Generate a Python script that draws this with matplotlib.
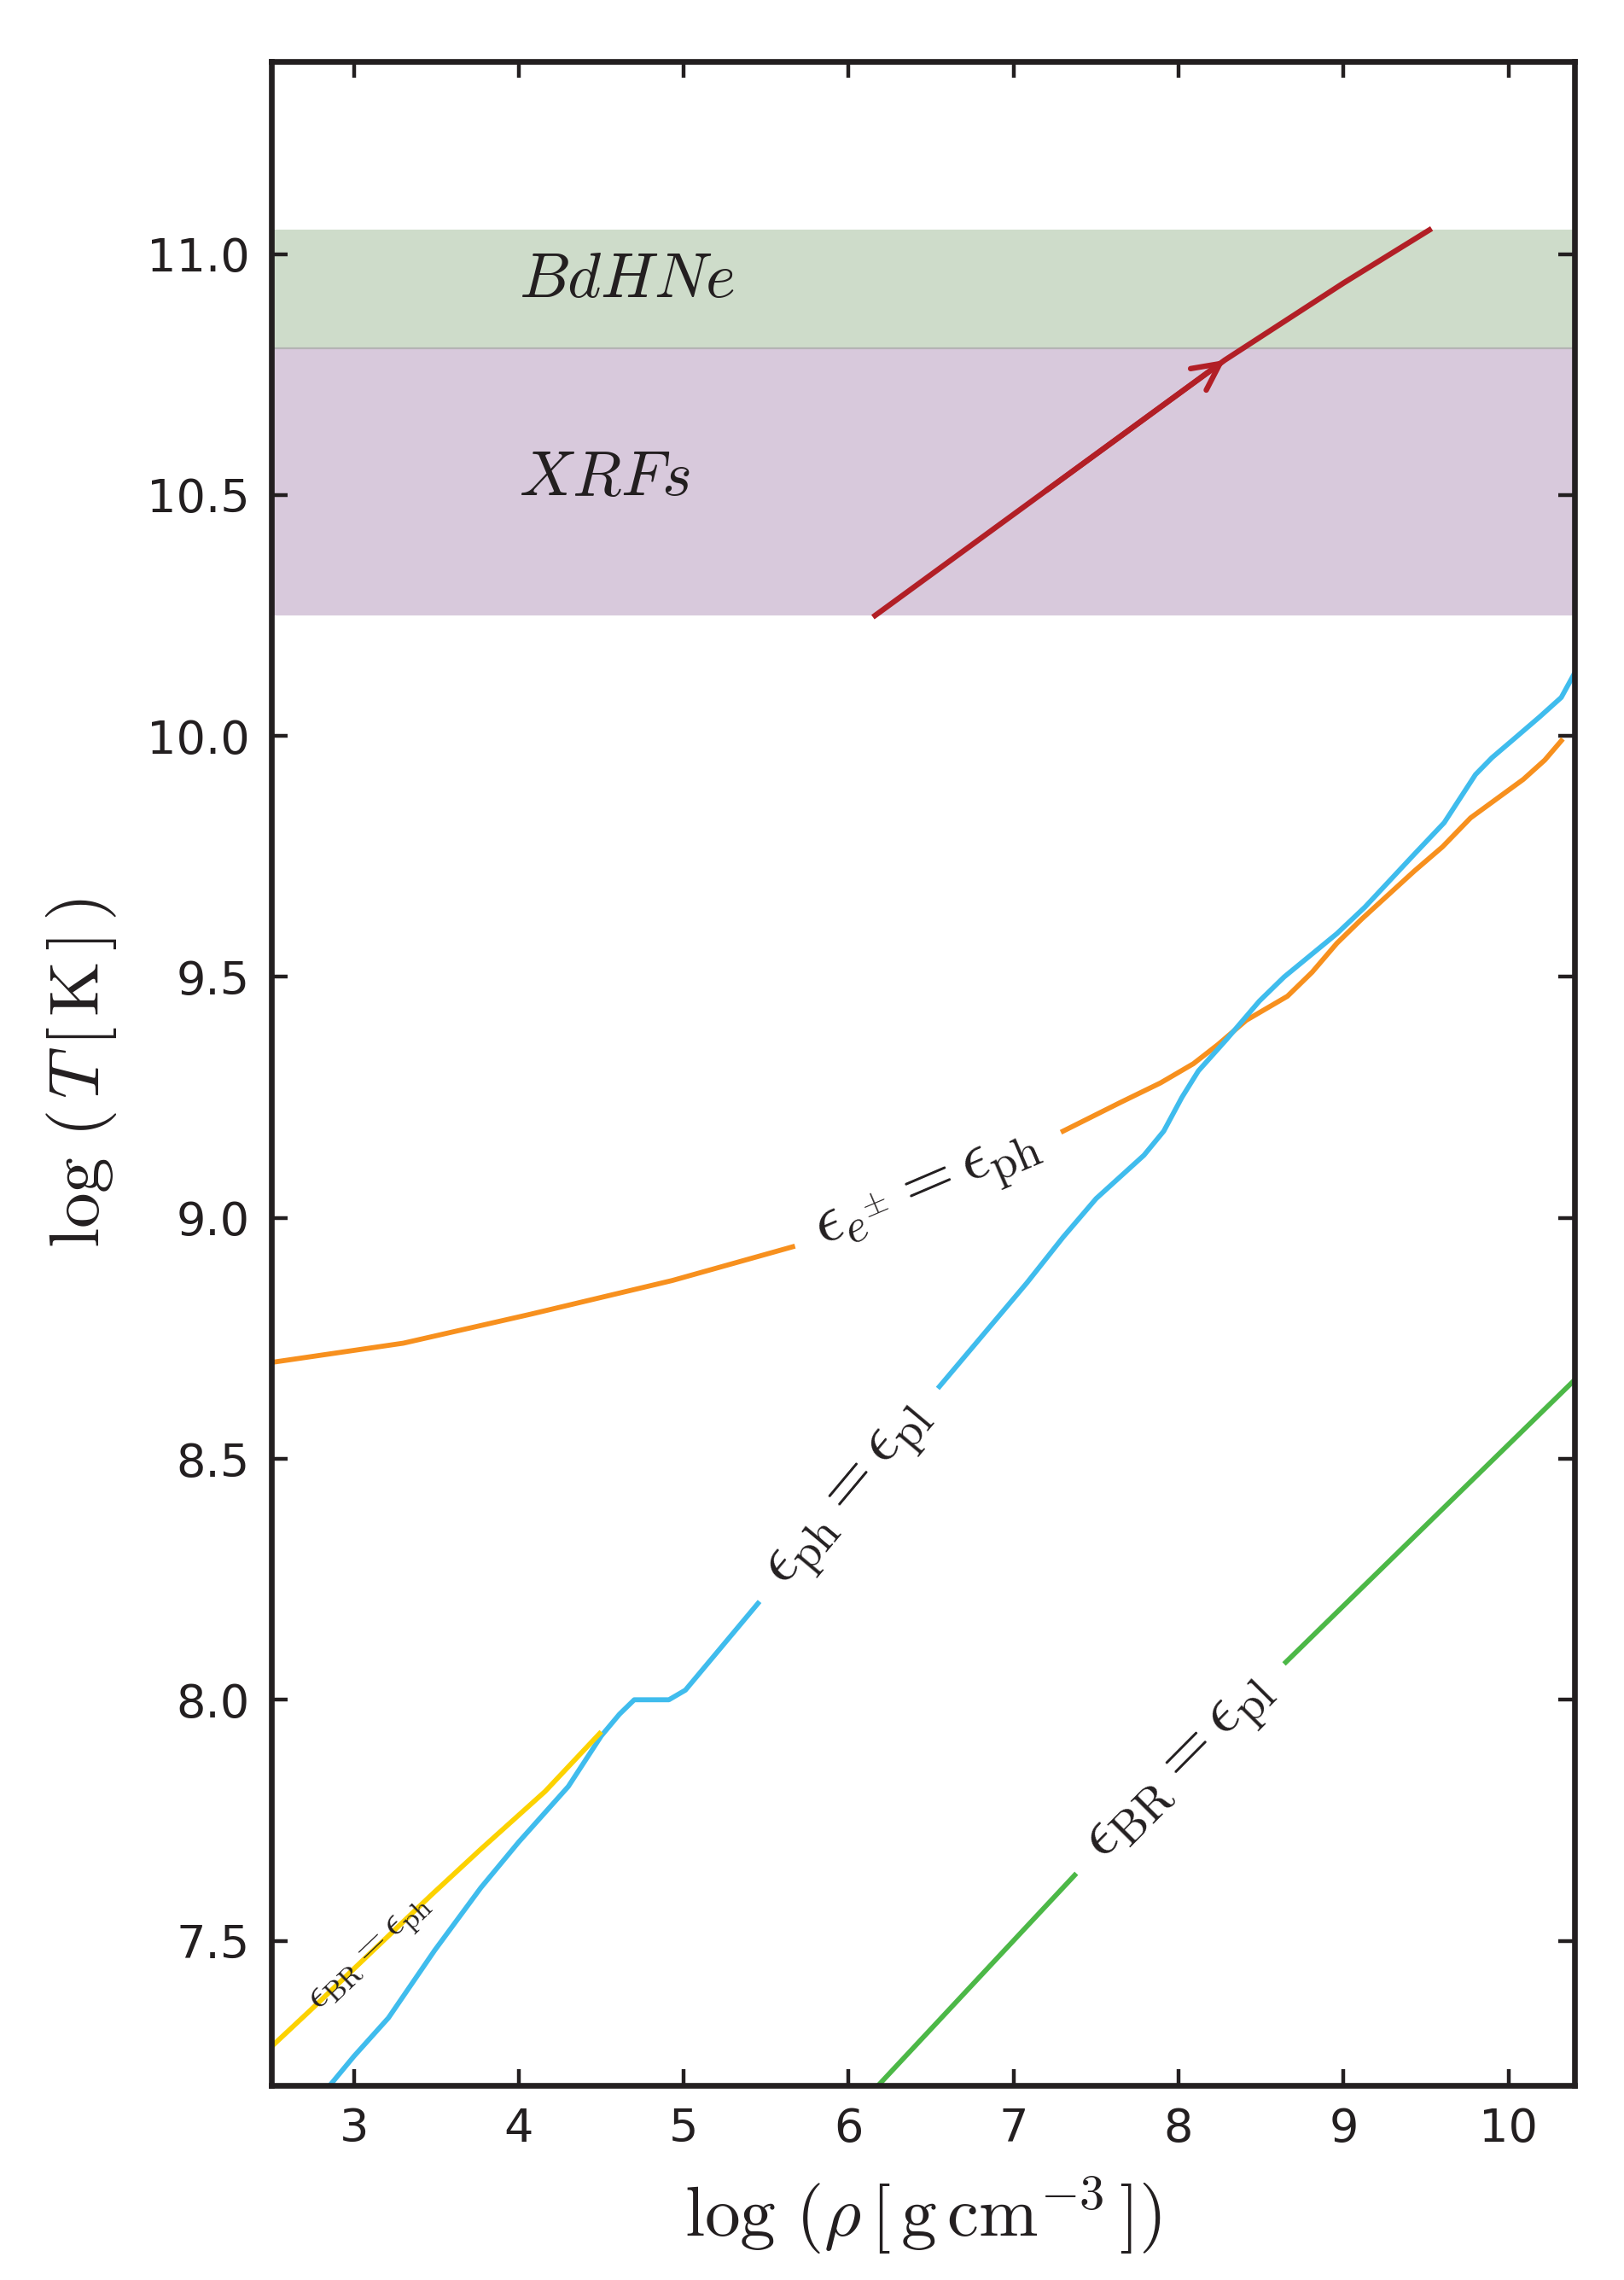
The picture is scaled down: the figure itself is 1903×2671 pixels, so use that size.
import numpy as np
import matplotlib
matplotlib.use("Agg")
import matplotlib.pyplot as plt

plt.rcParams["font.family"] = ["DejaVu Sans"]
plt.rcParams["mathtext.fontset"] = "cm"

# -----------------------------------
# Data
# -----------------------------------
# e+e- pair energy = photon energy
orange_x = [2.50, 3.30, 4.07, 4.93, 5.66, np.nan, 7.30, 7.65, 7.89, 8.09, 8.24,
            8.41, 8.66, 8.81, 8.96, 9.11, 9.43, 9.60, 9.77, 10.09, 10.22, 10.32]
orange_y = [8.70, 8.74, 8.80, 8.87, 8.94, np.nan, 9.18, 9.24, 9.28, 9.32, 9.36,
            9.41, 9.46, 9.51, 9.57, 9.62, 9.72, 9.77, 9.83, 9.91, 9.95, 9.99]

# photon energy = plasma energy
blue_x = [2.855, 3.00, 3.21, 3.49, 3.77, 4.00, 4.30, 4.50, 4.61, 4.70, 4.91, 5.01,
          5.45, np.nan, 6.55, 7.08, 7.30, 7.50, 7.79, 7.91, 8.02, 8.12, 8.29, 8.49,
          8.64, 8.96, 9.13, 9.43, 9.61, 9.80, 9.90, 10.02, 10.19, 10.32, 10.40]
blue_y = [7.20, 7.26, 7.34, 7.48, 7.61, 7.705, 7.82, 7.925, 7.97, 8.00, 8.00, 8.02,
          8.20, np.nan, 8.65, 8.865, 8.96, 9.04, 9.13, 9.18, 9.25, 9.305, 9.37, 9.45,
          9.50, 9.59, 9.645, 9.755, 9.82, 9.92, 9.955, 9.99, 10.04, 10.08, 10.13]

# bremsstrahlung = plasma
green_x = [6.18, 7.37, np.nan, 8.65, 10.39]
green_y = [7.20, 7.636, np.nan, 8.078, 8.66]

# bremsstrahlung = photon
yellow_x = [2.50, 2.75, 3.47, 3.77, 3.90, 4.16, 4.49]
yellow_y = [7.28, 7.36, 7.595, 7.69, 7.73, 7.81, 7.93]

# evolution track
red_x = [6.16, 7.20, 8.28, 9.00, 9.52]
red_y = [10.25, 10.51, 10.78, 10.94, 11.05]
arrow_idx = 2

# shaded regions
bdhne_band = (10.805, 11.05)
xrf_band = (10.25, 10.805)

# -----------------------------------
# Styles
# -----------------------------------
C_ORANGE = "#f7901e"
C_BLUE = "#3fbced"
C_GREEN = "#4cb847"
C_YELLOW = "#fcd200"
C_RED = "#b21f26"
C_TEXT = "#231f20"
LW = 2.1
LABEL_FS = 28


def gap_label(ax, xs, ys, text):
    # label sits in the hole of the line
    i = [k for k, v in enumerate(xs) if np.isnan(v)][0]
    x0, y0 = xs[i - 1], ys[i - 1]
    x1, y1 = xs[i + 1], ys[i + 1]
    ang = np.degrees(np.arctan2(y1 - y0, x1 - x0))
    ax.text((x0 + x1) / 2, (y0 + y1) / 2, text, fontsize=LABEL_FS,
            rotation=ang, transform_rotates_text=True, rotation_mode="anchor",
            ha="center", va="center", color=C_TEXT)


fig = plt.figure(figsize=(9.515, 13.355), dpi=200)
ax = fig.add_axes([0.1671, 0.0854, 0.8024, 0.8877])

ax.axhspan(*xrf_band, color="#d8c9dc", lw=0, zorder=0)
ax.axhspan(*bdhne_band, color="#cedcca", lw=0, zorder=0)
ax.axhline(bdhne_band[0], color="#b4b4b4", lw=0.8, zorder=0.5)

ax.plot(orange_x, orange_y, color=C_ORANGE, lw=LW)
ax.plot(green_x, green_y, color=C_GREEN, lw=LW)
ax.plot(blue_x, blue_y, color=C_BLUE, lw=LW)
ax.plot(yellow_x, yellow_y, color=C_YELLOW, lw=LW)

ax.plot(red_x, red_y, color=C_RED, lw=2.3)
ax.annotate("", xy=(red_x[arrow_idx], red_y[arrow_idx]),
            xytext=(red_x[arrow_idx - 1], red_y[arrow_idx - 1]),
            arrowprops=dict(arrowstyle="->", color=C_RED, lw=2.3,
                            mutation_scale=28, shrinkA=0, shrinkB=0))

gap_label(ax, orange_x, orange_y, r"$\epsilon_{e^{\pm}}=\epsilon_{\rm ph}$")
gap_label(ax, blue_x, blue_y, r"$\epsilon_{\rm ph}=\epsilon_{\rm pl}$")
gap_label(ax, green_x, green_y, r"$\epsilon_{\rm BR}=\epsilon_{\rm pl}$")

# small label drawn over the yellow line
lx = 3.10
ly = np.interp(lx, yellow_x, yellow_y)
ang = np.degrees(np.arctan2(yellow_y[2] - yellow_y[1], yellow_x[2] - yellow_x[1]))
ax.text(lx, ly, r"$\epsilon_{\rm BR}=\epsilon_{\rm ph}$", fontsize=17,
        rotation=ang, transform_rotates_text=True, rotation_mode="anchor",
        ha="center", va="center", color=C_TEXT)

ax.text(4.0, 10.91, r"$BdHNe$", fontsize=27, color=C_TEXT, va="baseline")
ax.text(4.0, 10.50, r"$XRFs$", fontsize=27, color=C_TEXT, va="baseline")

ax.set_xlim(2.5, 10.4)
ax.set_ylim(7.2, 11.4)
ax.set_xticks(range(3, 11))
ax.set_yticks([7.5, 8.0, 8.5, 9.0, 9.5, 10.0, 10.5, 11.0])
ax.tick_params(direction="in", top=True, right=True, length=7, width=1.6,
               labelsize=19.5, pad=9, colors=C_TEXT)
for s in ax.spines.values():
    s.set_linewidth(2.4)
    s.set_color(C_TEXT)

ax.set_xlabel(r"$\log\,(\rho\,[\,\mathrm{g\,cm}^{-3}\,])$", fontsize=30,
              labelpad=10, color=C_TEXT)
ax.set_ylabel(r"$\log\,(\,T\,[\,\mathrm{K}\,]\,)$", fontsize=30,
              labelpad=12, color=C_TEXT)

fig.savefig("out.png", dpi=200)
